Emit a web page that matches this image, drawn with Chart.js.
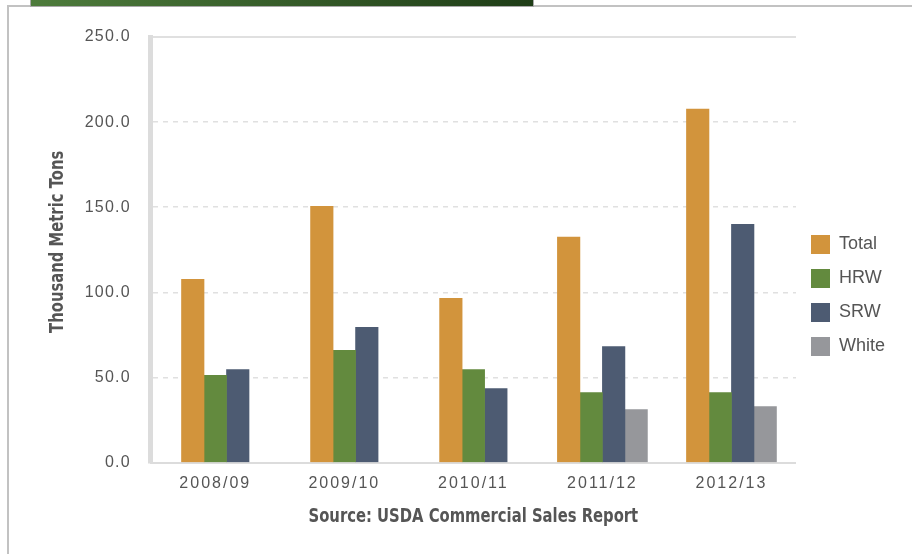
<!DOCTYPE html>
<html>
<head>
<meta charset="utf-8">
<script src="https://cdn.jsdelivr.net/npm/chart.js@4.4.1/dist/chart.umd.min.js"></script>
<style>
  html, body { margin: 0; padding: 0; background: #fff; width: 912px; height: 554px; overflow: hidden; }
  #card { position: absolute; left: 7px; top: 5px; width: 920px; height: 560px; border-left: 2px solid #c2c2c2; border-top: 2px solid #c2c2c2; }
  #hdr { position: absolute; left: 30px; top: 0; width: 502px; height: 6px; background: linear-gradient(90deg, #4e7c3c, #1f3d17); border: 1px solid #a8a8a8; border-top: none; }
  #wrap { position: absolute; left: 0; top: 0; width: 912px; height: 554px; }
</style>
</head>
<body>
<div id="card"></div>
<div id="hdr"></div>
<div id="wrap"><canvas id="c" width="912" height="554"></canvas></div>
<script>
const categories = ['2008/09', '2009/10', '2010/11', '2011/12', '2012/13'];
const totalValues = [107.6, 150.6, 96.5, 132.4, 207.6];
const hrwValues   = [51.2, 65.9, 54.7, 41.2, 41.2];
const srwValues   = [54.7, 79.4, 43.5, 68.2, 140.0];
const whiteValues = [null, null, null, 31.2, 32.9];
const seriesNames = ['Total', 'HRW', 'SRW', 'White'];
const yTicks = [0, 50, 100, 150, 200, 250];

const colors = ['#d2943c', '#638a3e', '#4d5b72', '#96979b'];
const seriesValues = [totalValues, hrwValues, srwValues, whiteValues];

// Letter-spaced tick labels and horizontally condensed bold axis titles
const stylePlugin = {
  id: 'textStyling',
  afterLayout(chart) {
    const cfg = { x: { sp: '2px', shift: 0 }, y: { sp: '1.2px', shift: -8 } };
    Object.keys(cfg).forEach((id) => {
      const s = chart.scales[id];
      if (!s || s._styled) return;
      const origLabels = s.drawLabels;
      s.drawLabels = function (area) {
        const c = this.ctx;
        c.save();
        c.letterSpacing = cfg[id].sp;
        origLabels.call(this, area);
        c.restore();
      };
      const origTitle = s.drawTitle;
      s.drawTitle = function () {
        const c = this.ctx;
        const k = 0.74;
        c.save();
        if (this.isHorizontal()) {
          const cx = (this.left + this.right) / 2;
          c.translate(cx + cfg[id].shift, 0); c.scale(k, 1); c.translate(-cx, 0);
        } else {
          const cy = (this.top + this.bottom) / 2;
          c.translate(0, cy + cfg[id].shift); c.scale(1, k); c.translate(0, -cy);
        }
        origTitle.call(this);
        c.restore();
      };
      s._styled = true;
    });
  }
};

const boldFam = "'DejaVu Sans', 'Liberation Sans', Arial, sans-serif";
const regular = "'Liberation Sans', Arial, Helvetica, sans-serif";

new Chart(document.getElementById('c'), {
  type: 'bar',
  data: {
    labels: categories,
    datasets: seriesNames.map((name, i) => ({
      label: name,
      data: seriesValues[i],
      backgroundColor: colors[i],
      borderWidth: 0,
      barThickness: 22.5,
      skipNull: true
    }))
  },
  options: {
    responsive: false,
    animation: false,
    events: [],
    layout: { padding: { left: 0, right: 17, top: 37, bottom: 0 } },
    plugins: {
      tooltip: { enabled: false },
      legend: {
        position: 'right',
        align: 'center',
        labels: {
          boxWidth: 19,
          boxHeight: 19,
          padding: 15,
          color: '#555',
          font: { family: regular, size: 18 }
        }
      }
    },
    scales: {
      x: {
        grid: { display: false, drawTicks: false },
        border: { display: true, color: '#dcdcdc', width: 2 },
        ticks: { color: '#555', padding: 11, font: { family: regular, size: 16 } },
        title: {
          display: true,
          text: 'Source: USDA Commercial Sales Report',
          color: '#555',
          font: { family: boldFam, size: 20, weight: 'bold', lineHeight: 1.26 },
          padding: { top: 0, bottom: 25 }
        }
      },
      y: {
        min: 0,
        max: 250,
        afterBuildTicks(scale) { scale.ticks = yTicks.map(v => ({ value: v })); },
        grid: {
          drawTicks: false,
          color: '#e0e0e0',
          lineWidth: (ctx) => (ctx.tick && ctx.tick.value === 250 ? 2 : 1.5)
        },
        border: {
          display: true,
          color: '#dcdcdc',
          width: 5,
          dash: (ctx) => (ctx.tick && (ctx.tick.value === 250 || ctx.tick.value === 0) ? [] : [5, 5])
        },
        ticks: {
          color: '#555',
          padding: 20,
          font: { family: regular, size: 16 },
          callback: (v) => Number(v).toFixed(1)
        },
        title: {
          display: true,
          text: 'Thousand Metric Tons',
          color: '#555',
          font: { family: boldFam, size: 20, weight: 'bold', lineHeight: 1.26 },
          padding: { top: 45.5, bottom: 0 }
        }
      }
    }
  },
  plugins: [stylePlugin]
});
</script>
</body>
</html>
